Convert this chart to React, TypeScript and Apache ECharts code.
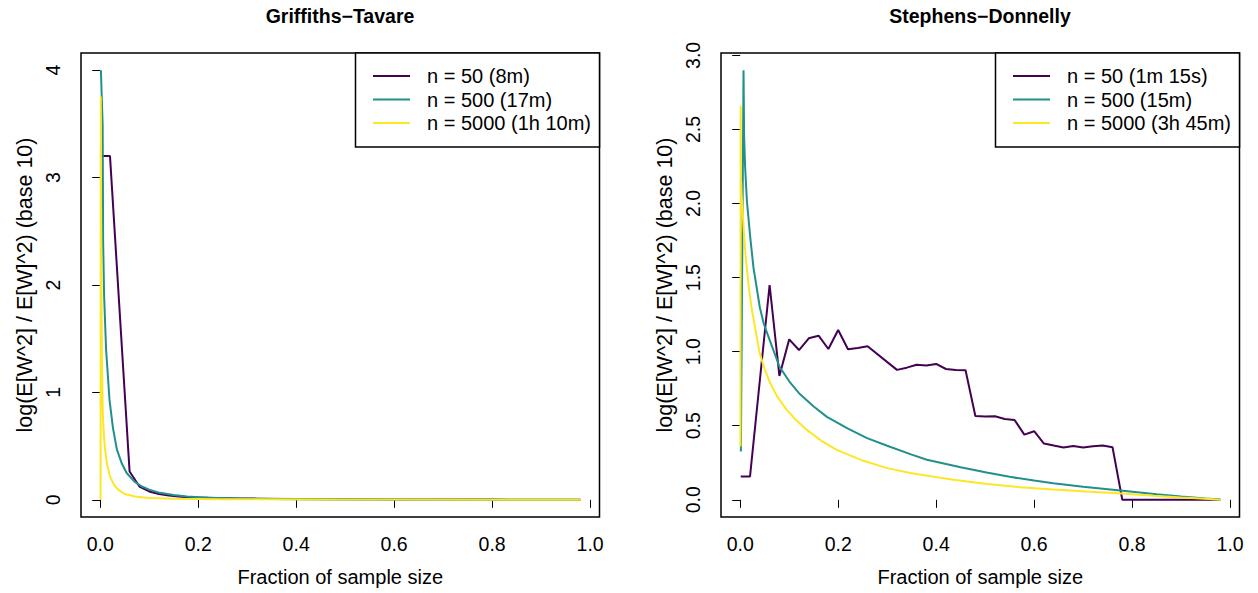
import React, { useEffect, useRef } from "react";
import * as echarts from "echarts";

// ---------- data ----------
const X_TICKS = [0, 0.2, 0.4, 0.6, 0.8, 1.0];
const GT_Y_TICKS = [0, 1, 2, 3, 4];
const SD_Y_TICKS = [0, 0.5, 1, 1.5, 2, 2.5, 3];

const COLORS = ["#440154", "#21908C", "#FDE725"];

const GT_NAMES = ["n = 50 (8m)", "n = 500 (17m)", "n = 5000 (1h 10m)"];
const SD_NAMES = ["n = 50 (1m 15s)", "n = 500 (15m)", "n = 5000 (3h 45m)"];

// Griffiths–Tavare
const GT50_X = [0.001, 0.02, 0.06, 0.08, 0.1, 0.12, 0.14, 0.16, 0.18, 0.2, 0.24, 0.28, 0.32, 0.4, 0.5, 0.6, 0.7, 0.8, 0.9, 0.98];
const GT50_Y = [3.2, 3.2, 0.263, 0.124, 0.078, 0.054, 0.04, 0.031, 0.025, 0.021, 0.016, 0.013, 0.011, 0.008, 0.006, 0.004, 0.003, 0.002, 0.001, 0.0];

const GT500_X = [0.0014, 0.005, 0.006, 0.008, 0.012, 0.019, 0.026, 0.034, 0.044, 0.054, 0.07, 0.085, 0.1, 0.122, 0.15, 0.177, 0.22, 0.3, 0.4, 0.6, 0.8, 0.98];
const GT500_Y = [4.0, 3.49, 2.4, 1.9, 1.4, 0.93, 0.67, 0.47, 0.34, 0.25, 0.17, 0.124, 0.095, 0.065, 0.045, 0.031, 0.02, 0.011, 0.006, 0.003, 0.0015, 0.0005];

const GT5000_X = [0.0008, 0.0012, 0.0016, 0.002, 0.003, 0.0034, 0.0045, 0.0055, 0.0075, 0.01, 0.014, 0.02, 0.028, 0.037, 0.05, 0.071, 0.1, 0.15, 0.25, 0.5, 0.98];
const GT5000_Y = [0.0, 3.755, 3.0, 2.3, 1.7, 1.4, 1.0, 0.78, 0.6, 0.466, 0.33, 0.217, 0.14, 0.093, 0.055, 0.031, 0.018, 0.01, 0.005, 0.002, 0.0003];

// Stephens–Donnelly
const SD50_X = [0.001, 0.02, 0.06, 0.08, 0.1, 0.12, 0.14, 0.16, 0.18, 0.2, 0.22, 0.24, 0.26, 0.32, 0.34, 0.36, 0.38, 0.4, 0.42, 0.44, 0.46, 0.48, 0.5, 0.52, 0.54, 0.56, 0.58, 0.6, 0.62, 0.64, 0.66, 0.68, 0.7, 0.72, 0.74, 0.76, 0.78, 0.98];
const SD50_Y = [0.157, 0.157, 1.45, 0.836, 1.083, 1.011, 1.09, 1.108, 1.018, 1.146, 1.016, 1.025, 1.036, 0.877, 0.892, 0.912, 0.906, 0.917, 0.883, 0.877, 0.874, 0.566, 0.562, 0.564, 0.546, 0.539, 0.44, 0.463, 0.38, 0.366, 0.353, 0.364, 0.353, 0.362, 0.366, 0.355, 0.0, 0.0];

const SD500_X = [0.0014, 0.0068, 0.008, 0.01, 0.0136, 0.0204, 0.027, 0.04, 0.048, 0.06, 0.08, 0.1, 0.12, 0.15, 0.177, 0.22, 0.259, 0.3, 0.35, 0.381, 0.45, 0.503, 0.55, 0.6, 0.639, 0.7, 0.776, 0.85, 0.9, 0.95, 0.98];
const SD500_Y = [0.326, 2.9, 2.45, 2.25, 2.02, 1.775, 1.57, 1.3, 1.19, 1.08, 0.9, 0.8, 0.72, 0.63, 0.56, 0.48, 0.416, 0.365, 0.305, 0.27, 0.22, 0.184, 0.155, 0.13, 0.112, 0.088, 0.063, 0.037, 0.022, 0.009, 0.002];

const SD5000_X = [0.0005, 0.001, 0.0015, 0.002, 0.003, 0.005, 0.008, 0.011, 0.014, 0.018, 0.024, 0.03, 0.039, 0.05, 0.061, 0.075, 0.095, 0.115, 0.136, 0.165, 0.197, 0.25, 0.3, 0.35, 0.435, 0.5, 0.571, 0.64, 0.707, 0.78, 0.844, 0.9, 0.95, 0.98];
const SD5000_Y = [0.36, 2.66, 1.95, 2.15, 2.05, 1.95, 1.78, 1.65, 1.55, 1.42, 1.28, 1.17, 1.0, 0.88, 0.79, 0.7, 0.607, 0.535, 0.472, 0.4, 0.337, 0.265, 0.214, 0.18, 0.135, 0.108, 0.085, 0.07, 0.056, 0.042, 0.027, 0.016, 0.007, 0.001];

const GT_SERIES = [
  [GT50_X, GT50_Y],
  [GT500_X, GT500_Y],
  [GT5000_X, GT5000_Y],
];
const SD_SERIES = [
  [SD50_X, SD50_Y],
  [SD500_X, SD500_Y],
  [SD5000_X, SD5000_Y],
];

const Y_TITLE = "log(E[W^2] / E[W]^2) (base 10)";
const X_TITLE = "Fraction of sample size";
const TITLES = ["Griffiths\u2212Tavare", "Stephens\u2212Donnelly"];

// ---------- layout ----------
const FONT = "'Liberation Sans', Arial, Helvetica, sans-serif";
const FS_TICK = 19.5;
const FS_LEG = 20;
const FS_XT = 20;
const FS_YT = 21.5;
const GRIDS = [
  { left: 81, top: 53, width: 518.5, height: 464 },
  { left: 721, top: 53, width: 518.5, height: 464 },
];

function zip(xs: number[], ys: number[]) {
  return xs.map((x, i) => [x, ys[i]]);
}

function makeXAxis(gridIndex: number) {
  return {
    type: "value",
    gridIndex,
    min: -0.0392,
    max: 1.0192,
    name: X_TITLE,
    nameLocation: "middle",
    nameGap: 50,
    nameTextStyle: { fontFamily: FONT, fontSize: FS_XT, color: "#000" },
    axisLine: { show: false },
    splitLine: { show: false },
    axisTick: {
      show: true,
      length: 8,
      customValues: X_TICKS,
      lineStyle: { color: "#000", width: 1 },
    },
    axisLabel: {
      customValues: X_TICKS,
      margin: 17,
      fontFamily: FONT,
      fontSize: FS_TICK,
      color: "#000",
      formatter: (v: number) => v.toFixed(1),
    },
  };
}

function makeYAxis(gridIndex: number, min: number, max: number, ticks: number[], dec: number) {
  return {
    type: "value",
    gridIndex,
    min,
    max,
    name: Y_TITLE,
    nameLocation: "middle",
    nameGap: 45,
    nameTextStyle: { fontFamily: FONT, fontSize: FS_YT, color: "#000" },
    axisLine: { show: false },
    splitLine: { show: false },
    axisTick: {
      show: true,
      length: 8,
      customValues: ticks,
      lineStyle: { color: "#000", width: 1 },
    },
    axisLabel: {
      customValues: ticks,
      rotate: 90,
      margin: 18,
      fontFamily: FONT,
      fontSize: FS_TICK,
      color: "#000",
      formatter: (v: number) => v.toFixed(dec),
    },
  };
}

function legendGraphic(x0: number, x1: number, names: string[]) {
  const children: any[] = [
    {
      type: "rect",
      shape: { x: x0, y: 53, width: x1 - x0, height: 94 },
      style: { fill: "#fff", stroke: "#000", lineWidth: 1.5 },
    },
  ];
  const rows = [76, 99.5, 123];
  names.forEach((n, i) => {
    children.push({
      type: "line",
      shape: { x1: x0 + 17.5, y1: rows[i], x2: x0 + 54.5, y2: rows[i] },
      style: { stroke: COLORS[i], lineWidth: 2 },
    });
    children.push({
      type: "text",
      x: x0 + 71.5,
      y: rows[i],
      style: {
        text: n,
        fontFamily: FONT,
        fontSize: FS_LEG,
        fill: "#000",
        align: "left",
        verticalAlign: "middle",
      },
    });
  });
  return { type: "group", children };
}

export default function App() {
  const ref = useRef<HTMLDivElement>(null);

  useEffect(() => {
    if (!ref.current) return;
    const chart = echarts.init(ref.current, null, { renderer: "svg" });

    const series: any[] = [];
    GT_SERIES.forEach(([xs, ys], i) => {
      series.push({
        type: "line",
        name: GT_NAMES[i],
        xAxisIndex: 0,
        yAxisIndex: 0,
        data: zip(xs, ys),
        symbol: "none",
        lineStyle: { color: COLORS[i], width: 2 },
        itemStyle: { color: COLORS[i] },
        z: 2 + i,
      });
    });
    SD_SERIES.forEach(([xs, ys], i) => {
      series.push({
        type: "line",
        name: SD_NAMES[i],
        xAxisIndex: 1,
        yAxisIndex: 1,
        data: zip(xs, ys),
        symbol: "none",
        lineStyle: { color: COLORS[i], width: 2 },
        itemStyle: { color: COLORS[i] },
        z: 2 + i,
      });
    });

    chart.setOption({
      animation: false,
      backgroundColor: "#fff",
      title: [
        {
          text: TITLES[0],
          left: 340,
          top: 6,
          textAlign: "center",
          padding: 0,
          textStyle: { fontFamily: FONT, fontSize: 19.5, fontWeight: "bold", color: "#000" },
        },
        {
          text: TITLES[1],
          left: 980,
          top: 6,
          textAlign: "center",
          padding: 0,
          textStyle: { fontFamily: FONT, fontSize: 19.5, fontWeight: "bold", color: "#000" },
        },
      ],
      grid: GRIDS.map((g) => ({
        ...g,
        show: true,
        borderColor: "#000",
        borderWidth: 1.5,
        backgroundColor: "transparent",
        containLabel: false,
      })),
      xAxis: [makeXAxis(0), makeXAxis(1)],
      yAxis: [
        makeYAxis(0, -0.16, 4.16, GT_Y_TICKS, 0),
        makeYAxis(1, -0.116, 3.016, SD_Y_TICKS, 1),
      ],
      series,
      graphic: [legendGraphic(355.5, 599.5, GT_NAMES), legendGraphic(995.5, 1239.5, SD_NAMES)],
    });

    return () => chart.dispose();
  }, []);

  return (
    <div
      ref={ref}
      style={{ position: "fixed", left: 0, top: 0, width: 1258, height: 593, background: "#fff" }}
    />
  );
}
